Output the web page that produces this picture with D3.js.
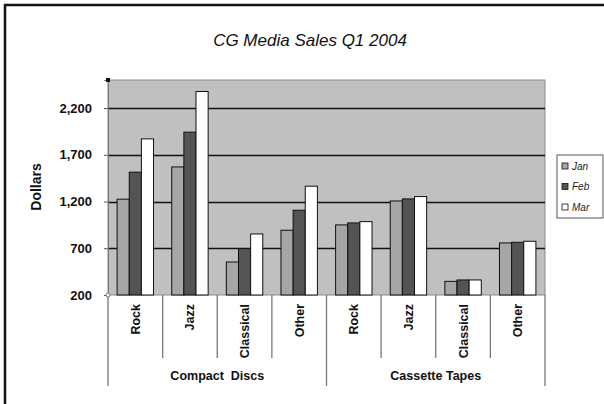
<!DOCTYPE html>
<html>
<head>
<meta charset="utf-8">
<script src="https://cdn.jsdelivr.net/npm/d3@7"></script>
<style>
  html, body { margin: 0; padding: 0; background: #fff; }
  svg { display: block; }
  text { font-family: Arial, "Liberation Sans", sans-serif; }
</style>
</head>
<body>
<svg id="chart" width="604" height="404"></svg>
<script>
const title = "CG Media Sales Q1 2004";
const yLabel = "Dollars";
const categories = ["Rock", "Jazz", "Classical", "Other", "Rock", "Jazz", "Classical", "Other"];
const groups = ["Compact  Discs", "Cassette Tapes"];
const seriesNames = ["Jan", "Feb", "Mar"];
const janValues = [1225, 1570, 553, 893, 950, 1206, 346, 757];
const febValues = [1514, 1942, 696, 1107, 971, 1228, 361, 764];
const marValues = [1870, 2377, 853, 1364, 985, 1253, 361, 775];
const yTicks = [200, 700, 1200, 1700, 2200];
const yDomain = [200, 2500];
const colors = ["#a6a6a6", "#545454", "#ffffff"];

(function () {
const series = [janValues, febValues, marValues];
const svg = d3.select("#chart");

const pLeft = 108, pRight = 545, pTop = 80, pBottom = 295;

// outer frame (top and left edges visible)
svg.append("line").attr("x1", 4).attr("x2", 604).attr("y1", 5).attr("y2", 5)
  .attr("stroke", "#111").attr("stroke-width", 2.5);
svg.append("line").attr("x1", 5).attr("x2", 5).attr("y1", 4).attr("y2", 404)
  .attr("stroke", "#111").attr("stroke-width", 2.5);

// title
svg.append("text").attr("x", 310).attr("y", 46).attr("text-anchor", "middle")
  .attr("font-size", 17).attr("font-style", "italic").attr("fill", "#111").text(title);

const x0 = d3.scaleBand().domain(d3.range(categories.length)).range([pLeft, pRight]).padding(0);
const bw = x0.bandwidth();
const x1 = d3.scaleBand().domain(d3.range(seriesNames.length)).range([bw / 6, bw * 5 / 6]).padding(0);
const y = d3.scaleLinear().domain(yDomain).range([pBottom, pTop]);

// plot area
svg.append("rect").attr("x", pLeft).attr("y", pTop).attr("width", pRight - pLeft).attr("height", pBottom - pTop)
  .attr("fill", "#c0c0c0").attr("stroke", "#8a8a8a").attr("stroke-width", 1);

// gridlines
svg.append("g").selectAll("line").data(yTicks.filter(t => t > yDomain[0])).join("line")
  .attr("x1", pLeft).attr("x2", pRight)
  .attr("y1", d => Math.round(y(d)) + 0.5).attr("y2", d => Math.round(y(d)) + 0.5)
  .attr("stroke", "#111").attr("stroke-width", 1.3);

// y axis
const yAxis = d3.axisLeft(y).tickValues(yTicks).tickSize(4).tickPadding(12).tickFormat(d3.format(","));
const gy = svg.append("g").attr("transform", `translate(${pLeft},0)`).call(yAxis);
gy.select(".domain").attr("stroke", "#777");
gy.selectAll(".tick line").attr("stroke", "#555");
gy.selectAll(".tick text").attr("font-size", 13).attr("font-weight", "bold")
  .attr("font-family", "Arial, 'Liberation Sans', sans-serif").attr("fill", "#111");

svg.append("text").attr("transform", `translate(41,187) rotate(-90)`)
  .attr("text-anchor", "middle").attr("font-size", 14).attr("font-weight", "bold").attr("fill", "#111")
  .text(yLabel);

// bars
const gBars = svg.append("g");
series.forEach((vals, si) => {
  gBars.append("g").selectAll("rect").data(vals).join("rect")
    .attr("x", (d, i) => x0(i) + x1(si))
    .attr("y", d => y(d))
    .attr("width", x1.bandwidth())
    .attr("height", d => y(yDomain[0]) - y(d))
    .attr("fill", colors[si]).attr("stroke", "#111").attr("stroke-width", 1);
});

// category axis (multi-level)
const gx = svg.append("g");
const perGroup = categories.length / groups.length;
d3.range(categories.length + 1).forEach(i => {
  const xx = i < categories.length ? x0(i) : pRight;
  const isGroupEdge = i % perGroup === 0;
  gx.append("line").attr("x1", xx).attr("x2", xx).attr("y1", pBottom)
    .attr("y2", isGroupEdge ? 386 : 358).attr("stroke", "#777").attr("stroke-width", 1.3);
});
gx.selectAll("text.cat").data(categories).join("text").attr("class", "cat")
  .attr("transform", (d, i) => `translate(${x0(i) + bw / 2 + 4.5},304) rotate(-90)`)
  .attr("text-anchor", "end").attr("font-size", 12.5).attr("font-weight", "bold").attr("fill", "#111")
  .text(d => d);
gx.selectAll("text.grp").data(groups).join("text").attr("class", "grp")
  .attr("x", (d, gi) => (x0(gi * perGroup) + (gi + 1 < groups.length ? x0((gi + 1) * perGroup) : pRight)) / 2)
  .attr("y", 380).attr("text-anchor", "middle").attr("font-size", 12.5).attr("font-weight", "bold")
  .attr("fill", "#111").attr("xml:space", "preserve").style("white-space", "pre").text(d => d);

// corner markers
svg.append("rect").attr("x", pLeft - 2).attr("y", pTop - 2).attr("width", 4).attr("height", 4).attr("fill", "#111");
svg.append("circle").attr("cx", pLeft).attr("cy", pBottom).attr("r", 2).attr("fill", "#fff").attr("stroke", "#777");

// legend
const lg = svg.append("g");
lg.append("rect").attr("x", 557).attr("y", 155).attr("width", 46).attr("height", 63)
  .attr("fill", "#fff").attr("stroke", "#555").attr("stroke-width", 1);
seriesNames.forEach((n, i) => {
  const cy = 166 + i * 20.5;
  lg.append("rect").attr("x", 562).attr("y", cy - 3).attr("width", 6).attr("height", 6)
    .attr("fill", colors[i]).attr("stroke", "#111").attr("stroke-width", 0.8);
  lg.append("text").attr("x", 572).attr("y", cy + 3.5).attr("font-size", 10).attr("font-style", "italic")
    .attr("fill", "#222").text(n);
});
})();
</script>
</body>
</html>
